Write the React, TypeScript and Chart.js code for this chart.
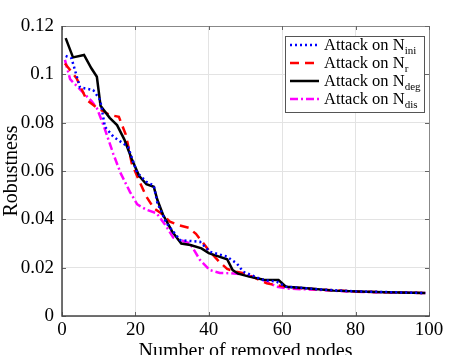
import React, { useEffect, useRef } from "react";
import { Chart, registerables } from "chart.js";

Chart.register(...registerables);

const FONT = "'Liberation Serif', 'Times New Roman', serif";

// Attack on N_deg (black solid)
const xDeg = [1, 3, 6, 8, 9.5, 10.5, 13, 15, 17, 19, 21, 23, 25, 26, 27.5, 30, 32.5, 35, 38, 40, 42, 45, 46.5, 48, 51, 55, 59, 61, 64, 67.5, 74, 85, 99];
const yDeg = [0.115, 0.107, 0.108, 0.1025, 0.099, 0.087, 0.082, 0.079, 0.073, 0.065, 0.058, 0.0545, 0.0535, 0.048, 0.042, 0.035, 0.030, 0.0294, 0.028, 0.026, 0.025, 0.0235, 0.019, 0.0175, 0.0163, 0.015, 0.0149, 0.0121, 0.0118, 0.0114, 0.0105, 0.0099, 0.0095];

// Attack on N_ini (blue dotted)
const xIni = [1, 2.6, 4.9, 8.5, 10.4, 11.7, 14, 18, 20.4, 23, 25, 26, 28.5, 32.2, 37.6, 40.3, 44.9, 47.6, 49.4, 54.8, 58.5, 61, 65, 70, 80, 99];
const yIni = [0.1076, 0.1066, 0.0946, 0.0935, 0.0894, 0.0783, 0.0742, 0.070, 0.0595, 0.0555, 0.054, 0.0467, 0.0383, 0.0314, 0.0307, 0.0266, 0.0246, 0.0218, 0.0183, 0.0149, 0.0142, 0.0121, 0.0117, 0.011, 0.0102, 0.0095];

// Attack on N_r (red dashed)
const xR = [0.8, 4, 6.7, 9.5, 13, 15.5, 17.4, 19, 21, 23, 25, 27, 29.4, 32, 34.5, 36.5, 40.3, 43, 45, 47, 50, 55.8, 58.5, 62, 70, 80, 99];
const yR = [0.1045, 0.0983, 0.0894, 0.0862, 0.0832, 0.0824, 0.075, 0.0632, 0.056, 0.0494, 0.0446, 0.0425, 0.039, 0.0375, 0.0365, 0.034, 0.0266, 0.0222, 0.0195, 0.0185, 0.0175, 0.0135, 0.0128, 0.0118, 0.011, 0.0101, 0.0095];

// Attack on N_dis (magenta dash-dot)
const xDis = [0.8, 2.2, 4.9, 8, 9.5, 11.3, 14, 16, 18.5, 20.5, 23, 25.8, 28, 30.3, 34.9, 37.6, 40.3, 43, 46, 50.3, 54.8, 58.5, 62, 70, 80, 99];
const yDis = [0.106, 0.098, 0.0938, 0.089, 0.086, 0.079, 0.067, 0.059, 0.0514, 0.0462, 0.044, 0.0425, 0.038, 0.0325, 0.0300, 0.0232, 0.019, 0.0178, 0.0177, 0.017, 0.0149, 0.0121, 0.0113, 0.0108, 0.0100, 0.0095];

const xTickLabels = ["0", "20", "40", "60", "80", "100"];
const yTickLabels = ["0", "0.02", "0.04", "0.06", "0.08", "0.1", "0.12"];

const legendMain = ["Attack on N", "Attack on N", "Attack on N", "Attack on N"];
const legendSub = ["ini", "r", "deg", "dis"];
const legendColors = ["#0000ff", "#ff0000", "#000000", "#ff00ff"];
const legendDash = [[2, 3], [9, 6], [], [8, 3, 2, 3]];

const pts = (xs: number[], ys: number[]) => xs.map((x, i) => ({ x, y: ys[i] }));

const framePlugin = {
  id: "frame",
  afterDatasetsDraw(chart: any) {
    const { ctx, chartArea } = chart;
    const { left, right, top, bottom } = chartArea;
    const xs = chart.scales.x;
    const ys = chart.scales.y;
    ctx.save();
    ctx.setLineDash([]);
    ctx.strokeStyle = "#888888";
    ctx.lineWidth = 1;
    ctx.beginPath();
    ctx.moveTo(left, top + 0.5);
    ctx.lineTo(right + 0.5, top + 0.5);
    ctx.lineTo(right + 0.5, bottom);
    ctx.stroke();
    ctx.strokeStyle = "#666666";
    ctx.beginPath();
    for (let v = 0; v <= 100; v += 20) {
      const px = Math.round(xs.getPixelForValue(v)) + 0.5;
      ctx.moveTo(px, bottom);
      ctx.lineTo(px, bottom - 4);
      ctx.moveTo(px, top);
      ctx.lineTo(px, top + 4);
    }
    for (let i = 0; i < yTickLabels.length; i++) {
      const py = Math.round(ys.getPixelForValue(i * 0.02)) + 0.5;
      ctx.moveTo(left, py);
      ctx.lineTo(left + 4, py);
      ctx.moveTo(right, py);
      ctx.lineTo(right - 4, py);
    }
    ctx.stroke();
    ctx.strokeStyle = "#444444";
    ctx.lineWidth = 1.5;
    ctx.beginPath();
    ctx.moveTo(left, top);
    ctx.lineTo(left, bottom);
    ctx.lineTo(right + 1, bottom);
    ctx.stroke();

    const bx = 285.5, by = 36.5, bw = 139, bh = 76;
    ctx.fillStyle = "#ffffff";
    ctx.fillRect(bx, by, bw, bh);
    ctx.strokeStyle = "#555555";
    ctx.lineWidth = 1;
    ctx.strokeRect(bx, by, bw, bh);
    const rowY = [45, 63, 81, 99];
    for (let i = 0; i < 4; i++) {
      const y = rowY[i];
      ctx.strokeStyle = legendColors[i];
      ctx.lineWidth = 2.5;
      ctx.setLineDash(legendDash[i]);
      ctx.beginPath();
      ctx.moveTo(290, y);
      ctx.lineTo(319, y);
      ctx.stroke();
      ctx.setLineDash([]);
      ctx.fillStyle = "#000000";
      ctx.textBaseline = "middle";
      ctx.textAlign = "left";
      ctx.font = `16.5px ${FONT}`;
      ctx.fillText(legendMain[i], 324, y + 1);
      const w = ctx.measureText(legendMain[i]).width;
      ctx.font = `11px ${FONT}`;
      ctx.fillText(legendSub[i], 324 + w, y + 6);
    }
    ctx.restore();
  },
};

export default function App() {
  const ref = useRef<HTMLCanvasElement>(null);
  useEffect(() => {
    document.body.style.margin = "0";
    const chart = new Chart(ref.current as HTMLCanvasElement, {
      type: "line",
      data: {
        datasets: [
          { label: "Attack on N_ini", data: pts(xIni, yIni), borderColor: "#0000ff", borderWidth: 2.5, borderDash: [2, 3], order: 1 },
          { label: "Attack on N_deg", data: pts(xDeg, yDeg), borderColor: "#000000", borderWidth: 2.5, order: 2 },
          { label: "Attack on N_r", data: pts(xR, yR), borderColor: "#ff0000", borderWidth: 2.5, borderDash: [9, 6], order: 3 },
          { label: "Attack on N_dis", data: pts(xDis, yDis), borderColor: "#ff00ff", borderWidth: 2.5, borderDash: [8, 3, 2, 3], order: 4 },
        ],
      },
      options: {
        animation: false,
        responsive: false,
        maintainAspectRatio: false,
        elements: { point: { radius: 0 }, line: { tension: 0, fill: false } },
        layout: { padding: { top: 26, right: 45, left: 0, bottom: 0 } },
        plugins: { legend: { display: false }, tooltip: { enabled: false } },
        scales: {
          x: {
            type: "linear",
            min: 0,
            max: 100,
            grid: { color: "#e3e3e3", drawTicks: false, lineWidth: 1 },
            border: { display: false },
            ticks: {
              stepSize: 20,
              padding: 3,
              color: "#000",
              font: { family: FONT, size: 19 },
              maxRotation: 0,
              callback: (v: any) => xTickLabels[Math.round(Number(v) / 20)],
            },
            title: { display: true, text: "Number of removed nodes", color: "#000", font: { family: FONT, size: 20 }, padding: 0 },
            afterFit: (s: any) => { s.height = 48; },
          },
          y: {
            type: "linear",
            min: 0,
            max: 0.12,
            grid: { color: "#e3e3e3", drawTicks: false, lineWidth: 1 },
            border: { display: false },
            ticks: {
              stepSize: 0.02,
              padding: 8,
              color: "#000",
              font: { family: FONT, size: 19 },
              callback: (v: any) => yTickLabels[Math.round(Number(v) / 0.02)],
            },
            title: { display: true, text: "Robustness", color: "#000", font: { family: FONT, size: 20 }, padding: 0 },
            afterFit: (s: any) => { s.width = 62; },
          },
        },
      },
      plugins: [framePlugin],
    } as any);
    return () => chart.destroy();
  }, []);
  return (
    <div style={{ position: "fixed", left: 0, top: 0, width: 474, height: 355, overflow: "hidden", background: "#fff" }}>
      <canvas ref={ref} width={474} height={364} style={{ width: 474, height: 364, display: "block" }} />
    </div>
  );
}
